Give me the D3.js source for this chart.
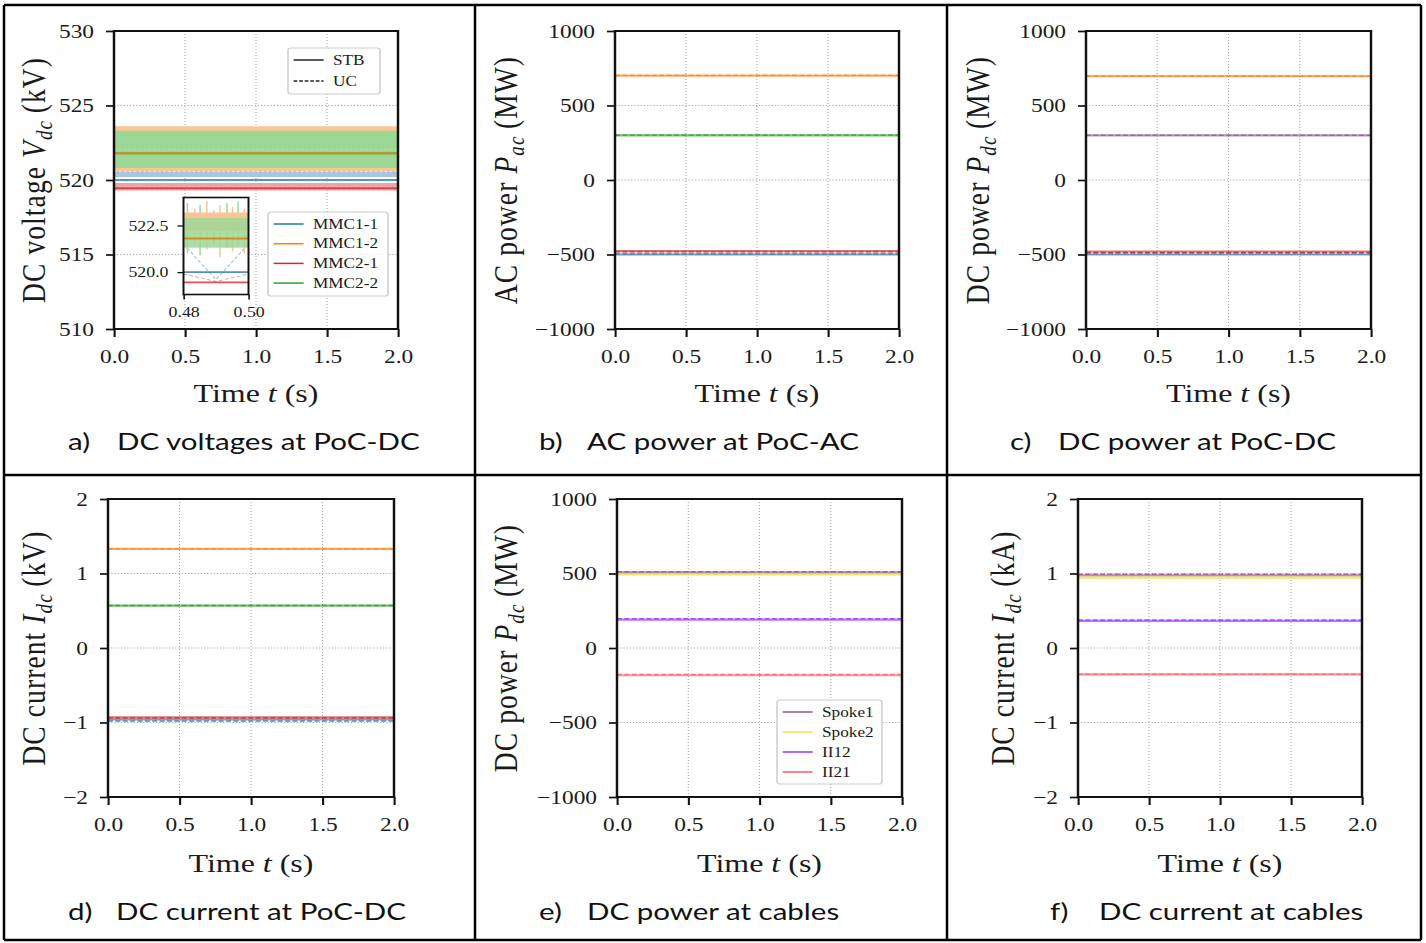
<!DOCTYPE html>
<html><head><meta charset="utf-8">
<script src="https://cdn.jsdelivr.net/npm/d3@7"></script>
<style>
body{margin:0;background:#fff;}
text{font-family:"Liberation Serif","Times New Roman",serif;fill:#1a1a1a;}
text.cap{font-family:Lato,"Open Sans",sans-serif;fill:#111;}
</style></head><body><div id="chart"></div>
<script>
// time axis (s)
var tSpan = [0, 2];
var timeTicks = [0, 0.5, 1.0, 1.5, 2.0];

var mmcNames = ["MMC1-1", "MMC1-2", "MMC2-1", "MMC2-2"];
var mmcColors = ["#1f77b4", "#ff7f0e", "#d62728", "#2ca02c"];
var bandColors = ["#a9c5e4", "#fcc394", "#efa3a4", "#9dd796"];
var modeNames = ["STB", "UC"];

// a) DC voltages (kV), STB level and UC ripple band
var vdcSTB = [520.0, 521.8, 519.45, 521.8];
var vdcUCLow = [520.2, 520.6, 519.3, 520.8];
var vdcUCHigh = [521.0, 523.6, 519.8, 523.3];
var vdcTicks = [510, 515, 520, 525, 530];

// a) zoom inset 0.48 .. 0.50 s
var insetTime = [0.48, 0.49, 0.50];
var insetTicksX = [0.48, 0.50];
var insetTicksY = [520.0, 522.5];
var insetBandLow = [null, 522.2, null, 521.3];
var insetBandHigh = [null, 523.2, null, 522.9];
var insetSpikeT = [0.4812, 0.4835, 0.4851, 0.4872, 0.4893, 0.4912, 0.4934, 0.4951, 0.4968, 0.4987];
var insetSpikeHigh = [523.7, 523.4, 523.6, 523.8, 523.3, 523.6, 523.7, 523.5, 523.8, 523.4];
var insetSpikeLow = [521.0, 521.4, 520.9, 521.2, 521.5, 520.8, 521.3, 521.1, 521.4, 521.0];
var insetBlueUC = [521.5, 519.6, 521.5];
var insetRedUC = [519.9, 519.5, 519.9];

// b) AC power (MW)
var pacSTB = [-500, 700, -478, 300];
var pacUC = [-496, 702, -482, 302];
// c) DC power (MW)
var pdcSTB = [-500, 697, -480, 300];
var pdcUC = [-490, 697, -487, 300];
var powerTicks = [-1000, -500, 0, 500, 1000];

// d) DC current (kA)
var idcSTB = [-0.96, 1.33, -0.93, 0.57];
var idcUC = [-0.98, 1.33, -0.94, 0.57];
var currentTicks = [-2, -1, 0, 1, 2];

// e/f) cables
var cableNames = ["Spoke1", "Spoke2", "II12", "II21"];
var cableColors = ["#9e4f94", "#e8e84a", "#9b30ff", "#ff5a6a"];
var pCabSTB = [508, 492, 190, -183];
var pCabUC = [512, 496, 196, -178];
var iCabSTB = [0.975, 0.94, 0.365, -0.355];
var iCabUC = [0.99, 0.95, 0.375, -0.35];

// the picture is stretched horizontally, so everything is drawn in a scaled group
var SX = 1.23;
var W = 1426, H = 943;

var svg = d3.select("#chart").append("svg")
    .attr("width", W)
    .attr("height", H);
svg.append("rect").attr("width", W).attr("height", H).attr("fill", "#fff");

var root = svg.append("g").attr("transform", "scale(" + SX + ",1)");

function dash(d) { return d === "UC" ? "4,2" : null; }

function yLabel(cx, cy, pre, sym, sub, unit) {
    var t = root.append("text")
        .attr("transform", "translate(" + cx / SX + "," + cy + ") rotate(-90)")
        .attr("text-anchor", "middle")
        .attr("dy", "0.35em")
        .attr("font-size", 27.5)
        .attr("letter-spacing", 1.1);
    t.append("tspan").text(pre);
    t.append("tspan").attr("font-style", "italic").text(sym);
    t.append("tspan").attr("font-style", "italic").attr("font-size", 19).attr("dy", 6).text(sub);
    t.append("tspan").attr("dy", -6).text("\u2009(" + unit + ")");
}

function caption(xLetter, xText, base, letter, txt) {
    root.append("text").attr("class", "cap").attr("x", xLetter / SX).attr("y", base)
        .attr("font-size", 24).text(letter);
    root.append("text").attr("class", "cap").attr("x", xText / SX).attr("y", base)
        .attr("font-size", 24).text(txt);
}

function panel(opt) {
    var b = opt.box;
    var w = (b[2] - b[0]) / SX, h = b[3] - b[1];
    var g = root.append("g").attr("transform", "translate(" + b[0] / SX + "," + b[1] + ")");
    var x = d3.scaleLinear().domain(tSpan).range([0, w]);
    var y = d3.scaleLinear().domain(opt.ydom).range([h, 0]);

    // dotted grid
    g.selectAll(".gx").data(timeTicks.slice(1, -1)).enter().append("line")
        .attr("x1", function(d){ return x(d); }).attr("x2", function(d){ return x(d); })
        .attr("y1", 0).attr("y2", h)
        .attr("stroke", "#a8a8a8").attr("stroke-width", 0.9).attr("stroke-dasharray", "1,2");
    g.selectAll(".gy").data(opt.yticks.slice(1, -1)).enter().append("line")
        .attr("x1", 0).attr("x2", w)
        .attr("y1", function(d){ return y(d); }).attr("y2", function(d){ return y(d); })
        .attr("stroke", "#a8a8a8").attr("stroke-width", 0.9).attr("stroke-dasharray", "1,1.6");

    var plot = g.append("g");
    opt.draw(plot, x, y, w, h);

    // axes
    var ax = g.append("g").attr("transform", "translate(0," + h + ")")
        .call(d3.axisBottom(x).tickValues(timeTicks).tickFormat(d3.format(".1f"))
            .tickSize(8).tickPadding(13));
    var ay = g.append("g")
        .call(d3.axisLeft(y).tickValues(opt.yticks).tickFormat(opt.yfmt || d3.format("d"))
            .tickSize(8 / SX).tickPadding(12 / SX));
    [ax, ay].forEach(function(a){
        a.select(".domain").remove();
        a.selectAll(".tick line").attr("stroke", "#111").attr("stroke-width", 1.7);
        a.selectAll(".tick text").attr("font-size", 19)
            .attr("font-family", "Liberation Serif, serif").attr("fill", "#2a2a2a");
    });

    g.append("rect").attr("width", w).attr("height", h)
        .attr("fill", "none").attr("stroke", "#111").attr("stroke-width", 2);

    // x label
    var xl = root.append("text")
        .attr("x", (b[0] + b[2]) / 2 / SX).attr("y", opt.xlabY)
        .attr("text-anchor", "middle").attr("font-size", 26);
    xl.append("tspan").text("Time ");
    xl.append("tspan").attr("font-style", "italic").text("t");
    xl.append("tspan").text(" (s)");

    yLabel(opt.ylabX, (b[1] + b[3]) / 2, opt.ylab[0], opt.ylab[1], opt.ylab[2], opt.ylab[3]);
    return g;
}

// draws STB solid + UC dashed constant levels for a set of series
function levels(stb, uc, colors) {
    return function(p, x, y) {
        var line = d3.line().x(function(d){ return x(d[0]); }).y(function(d){ return y(d[1]); });
        stb.forEach(function(v, i){
            p.append("path").datum(tSpan.map(function(t){ return [t, v]; }))
                .attr("d", line).attr("fill", "none")
                .attr("stroke", colors[i]).attr("stroke-opacity", 0.65).attr("stroke-width", 2.2);
        });
        uc.forEach(function(v, i){
            p.append("path").datum(tSpan.map(function(t){ return [t, v]; }))
                .attr("d", line).attr("fill", "none")
                .attr("stroke", colors[i]).attr("stroke-opacity", 0.8).attr("stroke-width", 1.4)
                .attr("stroke-dasharray", dash("UC"));
        });
    };
}

function legend(p, lx, ly, lw, lh, names, colors, styles, rowH, fs) {
    var lg = p.append("g").attr("transform", "translate(" + lx + "," + ly + ")");
    lg.append("rect").attr("width", lw).attr("height", lh).attr("rx", 2.5)
        .attr("fill", "#fff").attr("fill-opacity", 0.85)
        .attr("stroke", "#cccccc").attr("stroke-width", 1.2);
    names.forEach(function(n, i){
        var yy = 12 + i * rowH;
        lg.append("line").attr("x1", 5 / SX + 0.5).attr("x2", 35 / SX + 0.5).attr("y1", yy).attr("y2", yy)
            .attr("stroke", colors[i]).attr("stroke-width", 1.5)
            .attr("stroke-dasharray", styles ? styles[i] : null);
        lg.append("text").attr("x", 45 / SX).attr("y", yy).attr("dy", "0.33em")
            .attr("font-size", fs).text(n);
    });
}

// ---- a) DC voltages
panel({
    box: [114, 31, 398, 329], ydom: [510, 530], yticks: vdcTicks,
    xlabY: 402, ylabX: 33, ylab: ["DC voltage ", "V", "dc", "kV"],
    draw: function(p, x, y, w, h) {
        var area = d3.area().x(function(d){ return x(d[0]); })
            .y0(function(d){ return y(d[1]); }).y1(function(d){ return y(d[2]); });
        var line = d3.line().x(function(d){ return x(d[0]); }).y(function(d){ return y(d[1]); });
        [2, 0, 1, 3].forEach(function(i){
            p.append("path").datum(tSpan.map(function(t){ return [t, vdcUCLow[i], vdcUCHigh[i]]; }))
                .attr("d", area).attr("fill", bandColors[i]);
            p.append("path").datum(tSpan.map(function(t){ return [t, (vdcUCLow[i] + vdcUCHigh[i]) / 2]; }))
                .attr("d", line).attr("fill", "none").attr("stroke", "#fff")
                .attr("stroke-opacity", i === 0 ? 0.85 : 0.2).attr("stroke-width", 1.4)
                .attr("stroke-dasharray", "2,2");
        });
        [0, 2, 3, 1].forEach(function(i){
            p.append("path").datum(tSpan.map(function(t){ return [t, vdcSTB[i]]; }))
                .attr("d", line).attr("fill", "none")
                .attr("stroke", mmcColors[i]).attr("stroke-opacity", 0.75).attr("stroke-width", 2);
        });

        // legends
        legend(p, (288 - 114) / SX, 48 - 31, 92 / SX, 46, modeNames, ["#222", "#222"], [null, "3,1.5"], 21, 14);
        legend(p, (268 - 114) / SX, 212 - 31, 120 / SX, 84, mmcNames, mmcColors, null, 19.7, 14);

        // inset
        var ib = [183.5, 197.5, 248.5, 294.5];
        var iw = (ib[2] - ib[0]) / SX, ih = ib[3] - ib[1];
        var ig = p.append("g").attr("transform", "translate(" + (ib[0] - 114) / SX + "," + (ib[1] - 31) + ")");
        ig.append("rect").attr("width", iw).attr("height", ih).attr("fill", "#fff");
        var ix = d3.scaleLinear().domain([0.48, 0.50]).range([0, iw]);
        var iy = d3.scaleLinear().domain([518.8, 524]).range([ih, 0]);
        var iarea = d3.area().x(function(d){ return ix(d[0]); })
            .y0(function(d){ return iy(d[1]); }).y1(function(d){ return iy(d[2]); });
        var iline = d3.line().x(function(d){ return ix(d[0]); }).y(function(d){ return iy(d[1]); });
        ig.append("path").datum(insetTime.map(function(t, k){ return [t, insetBlueUC[k]]; }))
            .attr("d", iline).attr("fill", "none").attr("stroke", mmcColors[0])
            .attr("stroke-opacity", 0.45).attr("stroke-width", 1).attr("stroke-dasharray", "3,2");
        ig.append("path").datum(insetTime.map(function(t, k){ return [t, insetRedUC[k]]; }))
            .attr("d", iline).attr("fill", "none").attr("stroke", mmcColors[2])
            .attr("stroke-opacity", 0.45).attr("stroke-width", 1).attr("stroke-dasharray", "3,2");
        // ripple spikes
        ig.selectAll(".spk").data(insetSpikeT).enter().append("line")
            .attr("x1", function(d){ return ix(d); }).attr("x2", function(d){ return ix(d); })
            .attr("y1", function(d, k){ return iy(insetSpikeLow[k]); })
            .attr("y2", function(d, k){ return iy(insetSpikeHigh[k]); })
            .attr("stroke", function(d, k){ return k % 2 ? bandColors[1] : bandColors[3]; })
            .attr("stroke-width", 1.2);
        [1, 3].forEach(function(i){
            ig.append("path").datum(insetTime.map(function(t){ return [t, insetBandLow[i], insetBandHigh[i]]; }))
                .attr("d", iarea).attr("fill", bandColors[i]).attr("fill-opacity", i === 3 ? 0.85 : 1);
        });
        [0, 2, 3, 1].forEach(function(i){
            ig.append("path").datum(insetTime.map(function(t){ return [t, vdcSTB[i]]; }))
                .attr("d", iline).attr("fill", "none")
                .attr("stroke", mmcColors[i]).attr("stroke-opacity", 0.8).attr("stroke-width", 1.6);
        });
        var iax = ig.append("g").attr("transform", "translate(0," + ih + ")")
            .call(d3.axisBottom(ix).tickValues(insetTicksX).tickFormat(d3.format(".2f")).tickSize(5).tickPadding(7));
        var iay = ig.append("g")
            .call(d3.axisLeft(iy).tickValues(insetTicksY).tickFormat(d3.format(".1f")).tickSize(6 / SX).tickPadding(9 / SX));
        [iax, iay].forEach(function(a){
            a.select(".domain").remove();
            a.selectAll(".tick line").attr("stroke", "#111").attr("stroke-width", 1.3);
            a.selectAll(".tick text").attr("font-size", 14.5).attr("font-family", "Liberation Serif, serif").attr("fill", "#222");
        });
        ig.append("rect").attr("width", iw).attr("height", ih)
            .attr("fill", "none").attr("stroke", "#111").attr("stroke-width", 1.6);
    }
});

// ---- b) AC power
panel({
    box: [615, 31, 899, 329], ydom: [-1000, 1000], yticks: powerTicks,
    xlabY: 402, ylabX: 505, ylab: ["AC power ", "P", "ac", "MW"],
    draw: levels(pacSTB, pacUC, mmcColors)
});

// ---- c) DC power
panel({
    box: [1086, 31, 1371, 329], ydom: [-1000, 1000], yticks: powerTicks,
    xlabY: 402, ylabX: 977, ylab: ["DC power ", "P", "dc", "MW"],
    draw: levels(pdcSTB, pdcUC, ["#1f77b4", "#ff7f0e", "#d62728", "#8f5f8f"])
});

// ---- d) DC current at PoC
panel({
    box: [108, 499, 394, 797], ydom: [-2, 2], yticks: currentTicks,
    xlabY: 872, ylabX: 33, ylab: ["DC current ", "I", "dc", "kV"],
    draw: levels(idcSTB, idcUC, mmcColors)
});

// ---- e) DC power at cables
panel({
    box: [617, 499, 902, 797], ydom: [-1000, 1000], yticks: powerTicks,
    xlabY: 872, ylabX: 505, ylab: ["DC power ", "P", "dc", "MW"],
    draw: function(p, x, y, w, h) {
        levels(pCabSTB, pCabUC, cableColors)(p, x, y);
        legend(p, (777 - 617) / SX, 700 - 499, 105 / SX, 84, cableNames, cableColors, null, 20, 14);
    }
});

// ---- f) DC current at cables
panel({
    box: [1078, 499, 1362, 797], ydom: [-2, 2], yticks: currentTicks,
    xlabY: 872, ylabX: 1002, ylab: ["DC current ", "I", "dc", "kA"],
    draw: levels(iCabSTB, iCabUC, cableColors)
});

// captions
caption(68, 117, 450, "a)", "DC voltages at PoC-DC");
caption(539, 587, 450, "b)", "AC power at PoC-AC");
caption(1010, 1058, 450, "c)", "DC power at PoC-DC");
caption(68, 116, 920, "d)", "DC current at PoC-DC");
caption(539, 587, 920, "e)", "DC power at cables");
caption(1050, 1099, 920, "f)", "DC current at cables");

// table borders
var bx = [4, 475, 947, 1421], by = [5, 475, 940];
bx.forEach(function(v){
    svg.append("line").attr("x1", v).attr("x2", v).attr("y1", by[0]).attr("y2", by[2])
        .attr("stroke", "#000").attr("stroke-width", 2.5);
});
by.forEach(function(v){
    svg.append("line").attr("x1", bx[0]).attr("x2", bx[3]).attr("y1", v).attr("y2", v)
        .attr("stroke", "#000").attr("stroke-width", 2.5);
});
</script></body></html>
